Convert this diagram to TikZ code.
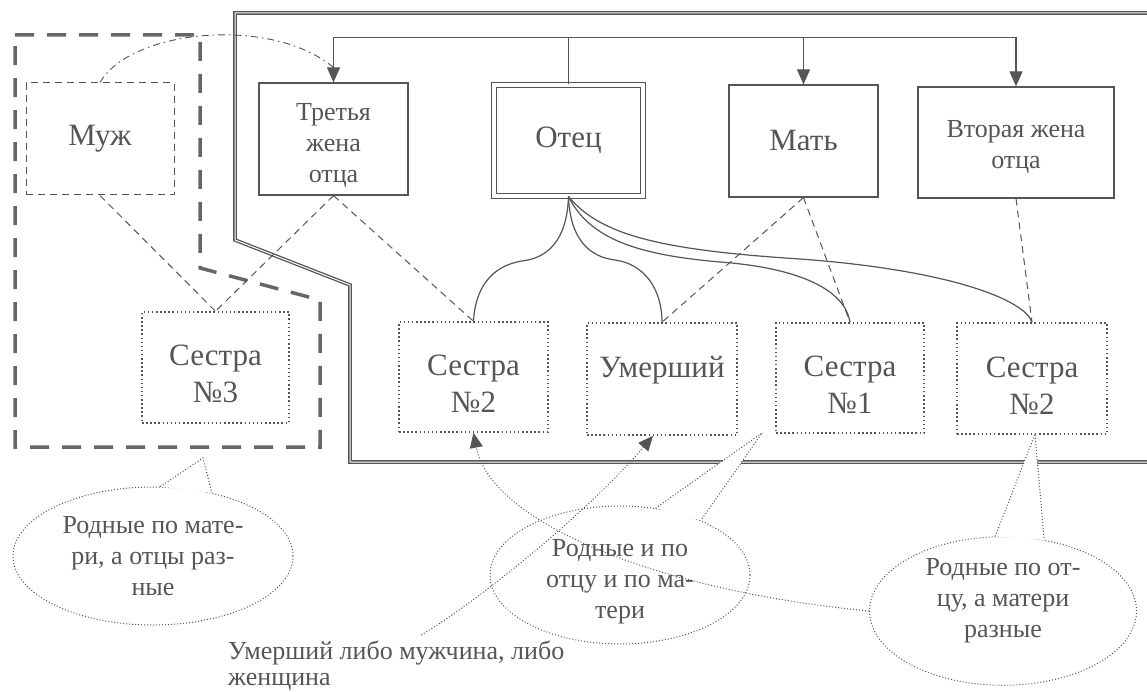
\documentclass[tikz,border=0pt]{standalone}
\usepackage{fontspec}
\setmainfont{Liberation Serif}
\usetikzlibrary{shapes.geometric,arrows.meta,positioning,calc}

\definecolor{ink}{HTML}{555555}

\tikzset{
  big/.style={font=\fontsize{31}{37}\selectfont},
  small/.style={font=\fontsize{26}{31}\selectfont},
  box/.style={draw=ink, line width=1.2pt, rectangle, inner sep=0pt, align=center, text=ink},
  dashbox/.style={box, line width=1pt, dash pattern=on 7pt off 5pt},
  dotbox/.style={box, line width=1.5pt, dash pattern=on 1.5pt off 2.6pt, text height=71pt},
  blood/.style={draw=ink, line width=1.2pt},
  kin/.style={draw=ink, line width=1pt, dash pattern=on 7pt off 5pt},
  note/.style={draw=ink, line width=1pt, dash pattern=on 1pt off 2pt},
  bubble/.style={ellipse, note, inner sep=0pt, align=center, text=ink, small},
  tip/.style={-{Triangle[length=15pt,width=13pt]}},
}

\begin{document}
\begin{tikzpicture}[x=1pt,y=-1pt]
  \useasboundingbox (0,0) rectangle (1147,692);

  % family frame and the mother's side
  \draw[ink, line width=1.3pt, double, double distance=1pt]
    (1147,13) -- (235,13) -- (235,240) -- (350,285) -- (350,462) -- (1147,462);
  \draw[ink!90, line width=3.5pt, dash pattern=on 19pt off 13pt]
    (15,35) -- (200,35) -- (200,268) -- (320,300) -- (320,447) -- (15,447) -- cycle;

  % parents
  \node[dashbox, big, minimum width=148, minimum height=112] (husband) at (100,139) {Муж};
  \node[box, small, minimum width=149, minimum height=112, text height=93pt] (wife3) at (333.5,139) {Третья\\жена\\отца};
  \node[box, big, double, double distance=4pt, line width=1pt,
        minimum width=149, minimum height=111] (father) at (568.5,140.5) {Отец};
  \node[box, big, minimum width=149, minimum height=112] (mother) at (803.5,141) {Мать};
  \node[box, small, minimum width=196, minimum height=111, text height=57pt] (wife2) at (1016,142.5) {Вторая жена\\отца};

  % children
  \node[dotbox, big, minimum width=147, minimum height=111] (sis3) at (215.5,367.5) {Сестра\\№3};
  \node[dotbox, big, minimum width=149, minimum height=110] (sis2a) at (473.5,377) {Сестра\\№2};
  \node[dotbox, big, minimum width=150, minimum height=112, text height=27pt, text depth=30pt] (dead) at (662,379) {Умерший};
  \node[dotbox, big, minimum width=148, minimum height=110] (sis1) at (850,378) {Сестра\\№1};
  \node[dotbox, big, minimum width=150, minimum height=111] (sis2b) at (1032,378.5) {Сестра\\№2};

  % marriages of the father
  \coordinate (bar) at (568.5,37.5);
  \draw[blood] (father.north) -- (bar);
  \draw[blood, tip] (bar) -- (bar -| wife3.north) -- (wife3.north);
  \draw[blood, tip] (bar) -- (bar -| mother.north) -- (mother.north);
  \draw[blood, tip] (bar -| mother.north) -- (bar -| wife2.north) -- (wife2.north);
  \draw[ink, line width=0.9pt, dash pattern=on 7pt off 4pt on 1.5pt off 4pt]
    (husband.north) .. controls (130,30) and (270,15) .. ($(wife3.north)+(0,-15)$);

  % mothers
  \draw[kin] (husband.south) -- (sis3.north);
  \draw[kin] (wife3.south) -- (sis3.north);
  \draw[kin] (wife3.south) -- (sis2a.north);
  \draw[kin] (mother.south) -- (dead.north);
  \draw[kin] (mother.south) -- (sis1.north);
  \draw[kin] (wife2.south) -- (sis2b.north);

  % father
  \draw[blood] (father.south) .. controls (567,240) and (548,258) .. (522,261)
    .. controls (490,266) and (475,290) .. (sis2a.north);
  \draw[blood] (father.south) .. controls (570,240) and (590,257) .. (615,260)
    .. controls (645,264) and (662,290) .. (dead.north);
  \draw[blood] (father.south) .. controls (590,240) and (640,255) .. (720,262)
    .. controls (800,268) and (845,290) .. (sis1.north);
  \draw[blood] (father.south) .. controls (600,235) and (660,250) .. (800,259)
    .. controls (950,270) and (1025,300) .. (sis2b.north);

  % notes
  \node[bubble, minimum width=280, minimum height=138] (noteM) at (153,556) {Родные по мате-\\ри, а отцы раз-\\ные};
  \node[bubble, minimum width=260, minimum height=136, text height=92pt] (noteB) at (620,575) {Родные и по\\отцу и по ма-\\тери};
  \node[bubble, minimum width=267, minimum height=148, text depth=26pt] (noteF) at (1003,611) {Родные по от-\\цу, а матери\\разные};
  \node[small, text=ink, align=left, anchor=north west, inner sep=0pt,
        font=\fontsize{26}{26}\selectfont] (deadnote) at (228,641) {Умерший либо мужчина, либо\\женщина};

  \coordinate (noteMtip) at (203,458);
  \coordinate (noteBtip) at (762,433);
  \coordinate (noteFtip) at (1035,434);
  \fill[white] (noteM.84) -- (noteMtip) -- (noteM.47) -- cycle;
  \draw[note] (noteM.84) -- (noteMtip) -- (noteM.47);
  \fill[white] (noteB.62) -- (noteBtip) -- (noteB.34) -- cycle;
  \draw[note] (noteB.62) -- (noteBtip) -- (noteB.34);
  \fill[white] (noteF.96) -- (noteFtip) -- (noteF.60) -- cycle;
  \draw[note] (noteF.96) -- (noteFtip) -- (noteF.60);

  \draw[note, tip] ($(deadnote.north)+(25,-6)$) .. controls (480,600) and (590,510) .. (dead.261);
  \draw[note, tip] (noteF.180) .. controls (650,590) and (490,520) .. (sis2a.south);
\end{tikzpicture}
\end{document}
